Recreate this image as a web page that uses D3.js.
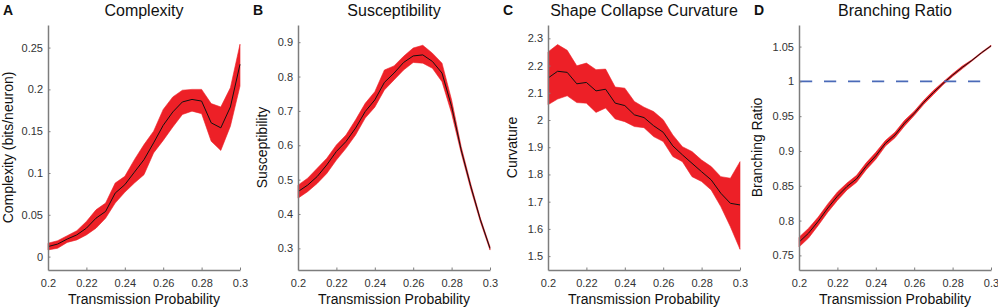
<!DOCTYPE html>
<html>
<head>
<meta charset="utf-8">
<script src="https://cdn.jsdelivr.net/npm/d3@7"></script>
<style>
  html, body { margin: 0; padding: 0; background: #fff; }
  svg { display: block; font-family: "Liberation Sans", Arial, sans-serif; }
</style>
</head>
<body>
<div id="chart"></div>
<script>
// transmission probability, 0.2 .. 0.3 in steps of 0.005
const xValues = [0.2, 0.205, 0.21, 0.215, 0.22, 0.225, 0.23, 0.235, 0.24, 0.245, 0.25,
  0.255, 0.26, 0.265, 0.27, 0.275, 0.28, 0.285, 0.29, 0.295, 0.3];
const xTicks = [0.2, 0.22, 0.24, 0.26, 0.28, 0.3];

// A - complexity
const complexityMean = [0.012, 0.015, 0.021, 0.026, 0.034, 0.046, 0.054, 0.076, 0.086, 0.101, 0.116,
  0.136, 0.157, 0.173, 0.185, 0.188, 0.186, 0.160, 0.154, 0.179, 0.230];
const complexityUpper = [0.016, 0.019, 0.025, 0.031, 0.042, 0.056, 0.064, 0.088, 0.096, 0.116, 0.134,
  0.150, 0.176, 0.191, 0.199, 0.200, 0.200, 0.183, 0.179, 0.202, 0.254];
const complexityLower = [0.008, 0.010, 0.017, 0.020, 0.026, 0.034, 0.046, 0.064, 0.077, 0.088, 0.098,
  0.124, 0.139, 0.155, 0.170, 0.174, 0.171, 0.138, 0.127, 0.156, 0.204];
const complexityTicks = [0, 0.05, 0.1, 0.15, 0.2, 0.25];

// B - susceptibility
const suscMean = [0.465, 0.484, 0.509, 0.543, 0.582, 0.611, 0.650, 0.698, 0.732, 0.783, 0.810,
  0.841, 0.860, 0.863, 0.844, 0.810, 0.713, 0.586, 0.480, 0.383, 0.300];
const suscUpper = [0.484, 0.504, 0.533, 0.562, 0.601, 0.630, 0.674, 0.722, 0.756, 0.819, 0.831,
  0.859, 0.883, 0.891, 0.868, 0.839, 0.732, 0.596, 0.487, 0.388, 0.305];
const suscLower = [0.446, 0.465, 0.489, 0.518, 0.557, 0.591, 0.630, 0.679, 0.711, 0.761, 0.790,
  0.819, 0.841, 0.839, 0.824, 0.785, 0.693, 0.577, 0.472, 0.377, 0.295];
const suscTicks = [0.3, 0.4, 0.5, 0.6, 0.7, 0.8, 0.9];

// C - shape collapse curvature
const curvMean = [2.154, 2.179, 2.175, 2.133, 2.138, 2.107, 2.113, 2.062, 2.053, 2.019, 2.009,
  1.979, 1.955, 1.905, 1.872, 1.841, 1.810, 1.780, 1.731, 1.694, 1.688];
const curvUpper = [2.250, 2.277, 2.256, 2.199, 2.209, 2.185, 2.187, 2.121, 2.117, 2.068, 2.047,
  2.031, 2.001, 1.945, 1.902, 1.884, 1.853, 1.829, 1.792, 1.786, 1.847];
const curvLower = [2.056, 2.077, 2.089, 2.064, 2.062, 2.028, 2.044, 2.004, 1.994, 1.976, 1.972,
  1.939, 1.921, 1.866, 1.847, 1.792, 1.774, 1.743, 1.682, 1.608, 1.525];
const curvTicks = [1.5, 1.6, 1.7, 1.8, 1.9, 2, 2.1, 2.2, 2.3];

// D - branching ratio
const branchMean = [0.769, 0.782, 0.799, 0.818, 0.835, 0.849, 0.860, 0.878, 0.893, 0.911, 0.923,
  0.940, 0.954, 0.970, 0.984, 0.997, 1.009, 1.020, 1.030, 1.041, 1.051];
const branchUpper = [0.776, 0.789, 0.805, 0.824, 0.841, 0.854, 0.865, 0.883, 0.898, 0.915, 0.927,
  0.944, 0.957, 0.973, 0.987, 0.999, 1.011, 1.022, 1.031, 1.042, 1.052];
const branchLower = [0.762, 0.775, 0.793, 0.812, 0.829, 0.844, 0.855, 0.873, 0.888, 0.907, 0.919,
  0.936, 0.951, 0.967, 0.981, 0.995, 1.007, 1.018, 1.029, 1.040, 1.050];
const branchTicks = [0.75, 0.8, 0.85, 0.9, 0.95, 1, 1.05];
const branchCritical = 1;

const width = 998, height = 308;
const axisColor = "#7d7d7d";
const bandColor = "#ed2027";

const svg = d3.select("#chart").append("svg")
  .attr("width", width)
  .attr("height", height);

const panels = [
  { letter: "A", title: "Complexity", ylabel: "Complexity (bits/neuron)", left: 48, labelOff: 35.5,
    domain: [-0.016, 0.277], ticks: complexityTicks, mean: complexityMean, upper: complexityUpper, lower: complexityLower },
  { letter: "B", title: "Susceptibility", ylabel: "Susceptibility", left: 298, labelOff: 31,
    domain: [0.237, 0.95], ticks: suscTicks, mean: suscMean, upper: suscUpper, lower: suscLower },
  { letter: "C", title: "Shape Collapse Curvature", ylabel: "Curvature", left: 548, labelOff: 31,
    domain: [1.449, 2.349], ticks: curvTicks, mean: curvMean, upper: curvUpper, lower: curvLower },
  { letter: "D", title: "Branching Ratio", ylabel: "Branching Ratio", left: 799, labelOff: 37,
    domain: [0.729, 1.081], ticks: branchTicks, mean: branchMean, upper: branchUpper, lower: branchLower,
    refLine: branchCritical }
];

const plotTop = 25, plotBottom = 270, plotWidth = 192;
const fmt = d => String(+d.toFixed(3));

panels.forEach(p => {
  const g = svg.append("g").attr("transform", `translate(${p.left},0)`);

  const x = d3.scaleLinear().domain([0.2, 0.3]).range([0, plotWidth]);
  const y = d3.scaleLinear().domain(p.domain).range([plotBottom, plotTop]);

  const rows = xValues.map((xv, i) => ({ x: xv, m: p.mean[i], hi: p.upper[i], lo: p.lower[i] }));

  // shaded band
  g.append("path")
    .datum(rows)
    .attr("fill", bandColor)
    .attr("stroke", bandColor)
    .attr("stroke-width", 0.6)
    .attr("d", d3.area().x(d => x(d.x)).y0(d => y(d.lo)).y1(d => y(d.hi)));

  // mean line
  g.append("path")
    .datum(rows)
    .attr("fill", "none")
    .attr("stroke", "#111")
    .attr("stroke-width", 1)
    .attr("d", d3.line().x(d => x(d.x)).y(d => y(d.m)));

  if (p.refLine != null) {
    g.append("line")
      .attr("x1", x(0.2) + 1).attr("x2", x(0.3))
      .attr("y1", y(p.refLine)).attr("y2", y(p.refLine))
      .attr("stroke", "#4a6ab8")
      .attr("stroke-width", 1.8)
      .attr("stroke-dasharray", "12.2,11.8");
  }

  // axes, matlab-ish: inward ticks, grey lines
  const xAxis = g.append("g")
    .attr("transform", `translate(0,${plotBottom})`)
    .call(d3.axisBottom(x).tickValues(xTicks).tickFormat(fmt).tickSizeInner(-2.5).tickSizeOuter(0).tickPadding(9));
  const yAxis = g.append("g")
    .call(d3.axisLeft(y).tickValues(p.ticks).tickFormat(fmt).tickSizeInner(-2.5).tickSizeOuter(0).tickPadding(5));

  [xAxis, yAxis].forEach(a => {
    a.select(".domain").attr("stroke", axisColor).attr("stroke-width", 1.5);
    a.selectAll(".tick line").attr("stroke", axisColor);
    a.selectAll("text")
      .attr("fill", "#333")
      .style("font-size", "11px")
      .style("font-family", "\"Liberation Sans\", Arial, sans-serif");
  });

  // title
  g.append("text")
    .attr("x", plotWidth / 2)
    .attr("y", 16)
    .attr("text-anchor", "middle")
    .attr("font-size", 16)
    .attr("fill", "#111")
    .text(p.title);

  // panel letter
  g.append("text")
    .attr("x", -45)
    .attr("y", 15)
    .attr("font-size", 14)
    .attr("font-weight", "bold")
    .attr("fill", "#111")
    .text(p.letter);

  // x label
  g.append("text")
    .attr("x", plotWidth / 2)
    .attr("y", 304)
    .attr("text-anchor", "middle")
    .attr("font-size", 14)
    .attr("fill", "#111")
    .text("Transmission Probability");

  // y label
  g.append("text")
    .attr("transform", `translate(${-p.labelOff},${(plotTop + plotBottom) / 2}) rotate(-90)`)
    .attr("text-anchor", "middle")
    .attr("font-size", 14)
    .attr("fill", "#111")
    .text(p.ylabel);
});
</script>
</body>
</html>
